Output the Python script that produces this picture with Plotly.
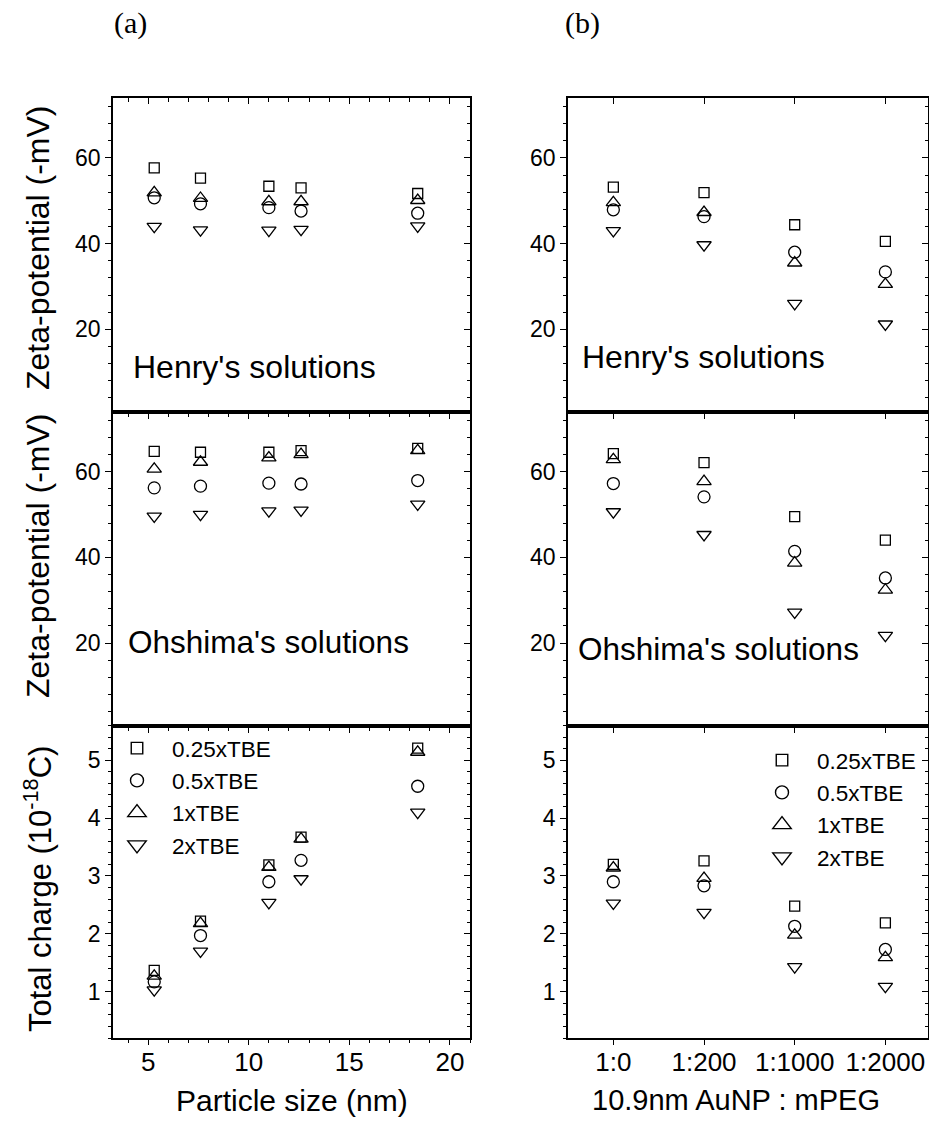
import plotly.graph_objects as go

W, H = 929, 1127
SANS = "Liberation Sans, Arial, sans-serif"
SERIF = "Liberation Serif, Times New Roman, serif"

# ---- data -------------------------------------------------------------
buffers = ["0.25xTBE", "0.5xTBE", "1xTBE", "2xTBE"]

# (a) particle size series
sizes_nm = [5.3, 7.6, 11.0, 12.6, 18.4]

henry_a_025 = [57.7, 55.3, 53.4, 53.0, 51.7]
henry_a_05 = [50.7, 49.3, 48.4, 47.6, 47.1]
henry_a_1 = [51.9, 50.6, 49.8, 49.8, 50.1]
henry_a_2 = [44.0, 43.2, 43.1, 43.3, 44.1]

ohshima_a_025 = [64.7, 64.5, 64.5, 64.9, 65.4]
ohshima_a_05 = [56.2, 56.6, 57.3, 57.1, 57.9]
ohshima_a_1 = [60.6, 62.2, 63.2, 64.0, 64.9]
ohshima_a_2 = [49.6, 50.0, 50.8, 51.0, 52.4]

charge_a_025 = [1.37, 2.22, 3.19, 3.67, 5.21]
charge_a_05 = [1.17, 1.97, 2.90, 3.27, 4.55]
charge_a_1 = [1.27, 2.18, 3.15, 3.64, 5.14]
charge_a_2 = [1.03, 1.70, 2.54, 2.95, 4.10]

# (b) 10.9 nm AuNP : mPEG ratio series
ratios = ["1:0", "1:200", "1:1000", "1:2000"]

henry_b_025 = [53.2, 51.9, 44.4, 40.5]
henry_b_05 = [47.9, 46.3, 38.0, 33.4]
henry_b_1 = [49.6, 47.3, 35.5, 30.5]
henry_b_2 = [43.0, 39.7, 26.0, 21.2]

ohshima_b_025 = [64.2, 62.1, 49.5, 44.0]
ohshima_b_05 = [57.2, 54.1, 41.4, 35.2]
ohshima_b_1 = [62.8, 57.7, 38.7, 32.4]
ohshima_b_2 = [50.6, 45.3, 27.2, 21.8]

charge_b_025 = [3.20, 3.26, 2.48, 2.19]
charge_b_05 = [2.90, 2.83, 2.13, 1.73]
charge_b_1 = [3.14, 2.96, 1.98, 1.59]
charge_b_2 = [2.53, 2.37, 1.43, 1.09]

# ---- marker styles ------------------------------------------------------
symbols = {"0.25xTBE": "square-open", "0.5xTBE": "circle-open",
           "1xTBE": "triangle-up-open", "2xTBE": "triangle-down-open"}
msize = {"0.25xTBE": 10, "0.5xTBE": 12, "1xTBE": 12.5, "2xTBE": 12.5}
lsize = {"0.25xTBE": 11.5, "0.5xTBE": 13, "1xTBE": 16, "2xTBE": 16}

panels = [
    # (x-axis id, y-axis id, x values, {buffer: y values})
    ("x", "y", sizes_nm, dict(zip(buffers, [henry_a_025, henry_a_05, henry_a_1, henry_a_2]))),
    ("x2", "y2", sizes_nm, dict(zip(buffers, [ohshima_a_025, ohshima_a_05, ohshima_a_1, ohshima_a_2]))),
    ("x3", "y3", sizes_nm, dict(zip(buffers, [charge_a_025, charge_a_05, charge_a_1, charge_a_2]))),
    ("x4", "y4", ratios, dict(zip(buffers, [henry_b_025, henry_b_05, henry_b_1, henry_b_2]))),
    ("x5", "y5", ratios, dict(zip(buffers, [ohshima_b_025, ohshima_b_05, ohshima_b_1, ohshima_b_2]))),
    ("x6", "y6", ratios, dict(zip(buffers, [charge_b_025, charge_b_05, charge_b_1, charge_b_2]))),
]

fig = go.Figure()
for xa, ya, xs, series in panels:
    for b in buffers:
        fig.add_trace(go.Scatter(
            x=xs, y=series[b], xaxis=xa, yaxis=ya, mode="markers",
            marker=dict(symbol=symbols[b], size=msize[b], color="black",
                        line=dict(width=1.3, color="black")),
            showlegend=False, name=b))

# legend entries (one legend per column)
for leg, xa, ya in [("legend", "x3", "y3"), ("legend2", "x6", "y6")]:
    for b in buffers:
        fig.add_trace(go.Scatter(
            x=[None], y=[None], xaxis=xa, yaxis=ya, mode="markers", name=b,
            marker=dict(symbol=symbols[b], size=lsize[b], color="black",
                        line=dict(width=1.4, color="black")),
            legend=leg, showlegend=True))


def px_x(p):
    return p / W


def px_y(p):
    return 1 - p / H


# ---- geometry (pixels) --------------------------------------------------
col_a = [px_x(113), px_x(470)]
col_b = [px_x(568), px_x(928)]
row_top = [px_y(411.5), px_y(98)]
row_mid = [px_y(725.5), px_y(411.5)]
row_bot = [px_y(1038), px_y(725.5)]

ZETA_RANGE = [0.8, 74]
CHARGE_RANGE = [0.2, 5.6]
SIZE_RANGE = [3.25, 21]
RATIO_RANGE = [-0.5, 3.47]


def axis(**kw):
    d = dict(showline=True, linecolor="black", linewidth=1.6, mirror=True,
             ticks="outside", ticklen=6, tickwidth=1.4, tickcolor="black",
             showgrid=False, zeroline=False,
             tickfont=dict(family=SANS, size=23, color="black"))
    d.update(kw)
    return d


def minor(dt):
    return dict(ticks="outside", ticklen=3.5, tickwidth=1.2, tickcolor="black",
                dtick=dt, tick0=0, showgrid=False)


def tick_only(direction, **kw):
    # overlay axis that draws tick marks only (no line, no labels)
    d = dict(showline=False, ticks=direction, ticklen=6, tickwidth=1.4,
             tickcolor="black", showgrid=False, zeroline=False,
             showticklabels=False, type="linear")
    d.update(kw)
    return d


def tick_only_minor(direction, dt):
    return dict(ticks=direction, ticklen=3.5, tickwidth=1.2, tickcolor="black",
                dtick=dt, tick0=0, showgrid=False)


xfont = dict(family=SANS, size=26, color="black")
lay = {}
# column (a)
lay["xaxis"] = axis(domain=col_a, anchor="y", range=SIZE_RANGE, dtick=5, tick0=0,
                    minor=minor(1), showticklabels=False)
lay["xaxis2"] = axis(domain=col_a, anchor="y2", range=SIZE_RANGE, dtick=5, tick0=0,
                     minor=minor(1), showticklabels=False)
lay["xaxis3"] = axis(domain=col_a, anchor="y3", range=SIZE_RANGE, dtick=5, tick0=0,
                     ticks="", tickfont=xfont)
lay["yaxis"] = axis(domain=row_top, anchor="x", range=ZETA_RANGE, dtick=20, tick0=0,
                    minor=minor(4))
lay["yaxis2"] = axis(domain=row_mid, anchor="x2", range=ZETA_RANGE, dtick=20, tick0=0,
                     minor=minor(4))
lay["yaxis3"] = axis(domain=row_bot, anchor="x3", range=CHARGE_RANGE, dtick=1, tick0=0,
                     minor=minor(0.2))
# column (b)
lay["xaxis4"] = axis(domain=col_b, anchor="y4", type="category", range=RATIO_RANGE,
                     showticklabels=False)
lay["xaxis5"] = axis(domain=col_b, anchor="y5", type="category", range=RATIO_RANGE,
                     showticklabels=False)
lay["xaxis6"] = axis(domain=col_b, anchor="y6", type="category", range=RATIO_RANGE,
                     ticks="", tickfont=xfont)
lay["yaxis4"] = axis(domain=row_top, anchor="x4", range=ZETA_RANGE, dtick=20, tick0=0,
                     minor=minor(4))
lay["yaxis5"] = axis(domain=row_mid, anchor="x5", range=ZETA_RANGE, dtick=20, tick0=0,
                     minor=minor(4))
lay["yaxis6"] = axis(domain=row_bot, anchor="x6", range=CHARGE_RANGE, dtick=1, tick0=0,
                     minor=minor(0.2))

# (x axis, y axis) pairs that only carry extra tick marks; each needs a
# placeholder trace so that plotly builds and draws the overlay subplot
tick_pairs = []

# inward-pointing ticks on the right-hand frame of every panel
for i, (rng, dt, mdt) in enumerate([(ZETA_RANGE, 20, 4), (ZETA_RANGE, 20, 4),
                                    (CHARGE_RANGE, 1, 0.2), (ZETA_RANGE, 20, 4),
                                    (ZETA_RANGE, 20, 4), (CHARGE_RANGE, 1, 0.2)]):
    base = "y" if i == 0 else f"y{i + 1}"
    xa = "x" if i == 0 else f"x{i + 1}"
    lay[f"yaxis{i + 7}"] = tick_only("inside", overlaying=base, side="right", anchor=xa,
                                     range=rng, dtick=dt, tick0=0,
                                     minor=tick_only_minor("inside", mdt))
    tick_pairs.append((xa, f"y{i + 7}"))
# inward-pointing ticks on the top frame of the upper panels
lay["xaxis7"] = tick_only("inside", overlaying="x", side="top", anchor="y",
                          range=SIZE_RANGE, dtick=5, tick0=0,
                          minor=tick_only_minor("inside", 1))
tick_pairs.append(("x7", "y"))
lay["xaxis8"] = tick_only("inside", overlaying="x4", side="top", anchor="y4",
                          range=RATIO_RANGE, tickmode="array", tickvals=[0, 1, 2, 3])
tick_pairs.append(("x8", "y4"))
# outward ticks under the lower panels (labels sit on the main axes)
lay["xaxis9"] = tick_only("outside", overlaying="x3", side="bottom", anchor="y3",
                          range=SIZE_RANGE, dtick=5, tick0=0,
                          minor=tick_only_minor("outside", 1))
tick_pairs.append(("x9", "y3"))
lay["xaxis10"] = tick_only("outside", overlaying="x6", side="bottom", anchor="y6",
                           range=RATIO_RANGE, tickmode="array", tickvals=[0, 1, 2, 3])
tick_pairs.append(("x10", "y6"))

for xa, ya in tick_pairs:
    fig.add_trace(go.Scatter(x=[None], y=[None], xaxis=xa, yaxis=ya, mode="markers",
                             showlegend=False, hoverinfo="skip",
                             marker=dict(color="rgba(0,0,0,0)")))

legend_common = dict(xanchor="left", yanchor="top", bgcolor="rgba(0,0,0,0)",
                     borderwidth=0, itemsizing="trace", itemwidth=60,
                     font=dict(family=SANS, size=22.5, color="black"),
                     tracegroupgap=0)
lay["legend"] = dict(x=px_x(102), y=px_y(727), **legend_common)
lay["legend2"] = dict(x=px_x(747), y=px_y(739), **legend_common)

ann = []


def text(t, x, y, size, family=SANS, xanchor="left", angle=0):
    ann.append(dict(text=t, x=px_x(x), y=px_y(y), xref="paper", yref="paper",
                    xanchor=xanchor, yanchor="middle", showarrow=False,
                    textangle=angle, font=dict(family=family, size=size, color="black")))


text("(a)", 130, 23, 30, family=SERIF, xanchor="center")
text("(b)", 582, 23, 30, family=SERIF, xanchor="center")
text("Henry's solutions", 131, 367, 32)
text("Henry's solutions", 580, 357, 32)
text("Ohshima's solutions", 126, 642, 31.5)
text("Ohshima's solutions", 576, 649, 31.5)
text("Zeta-potential (-mV)", 38, 248, 32, xanchor="center", angle=-90)
text("Zeta-potential (-mV)", 38, 556, 32, xanchor="center", angle=-90)
text("Total charge (10<sup>-18</sup>C)", 38, 889, 31, xanchor="center", angle=-90)
text("Particle size (nm)", 292, 1100, 30, xanchor="center")
text("10.9nm AuNP : mPEG", 736, 1100, 29, xanchor="center")

fig.update_layout(width=W, height=H, margin=dict(l=0, r=0, t=0, b=0),
                  paper_bgcolor="white", plot_bgcolor="white",
                  font=dict(family=SANS, color="black"),
                  annotations=ann, **lay)

fig.write_html("out.html")
